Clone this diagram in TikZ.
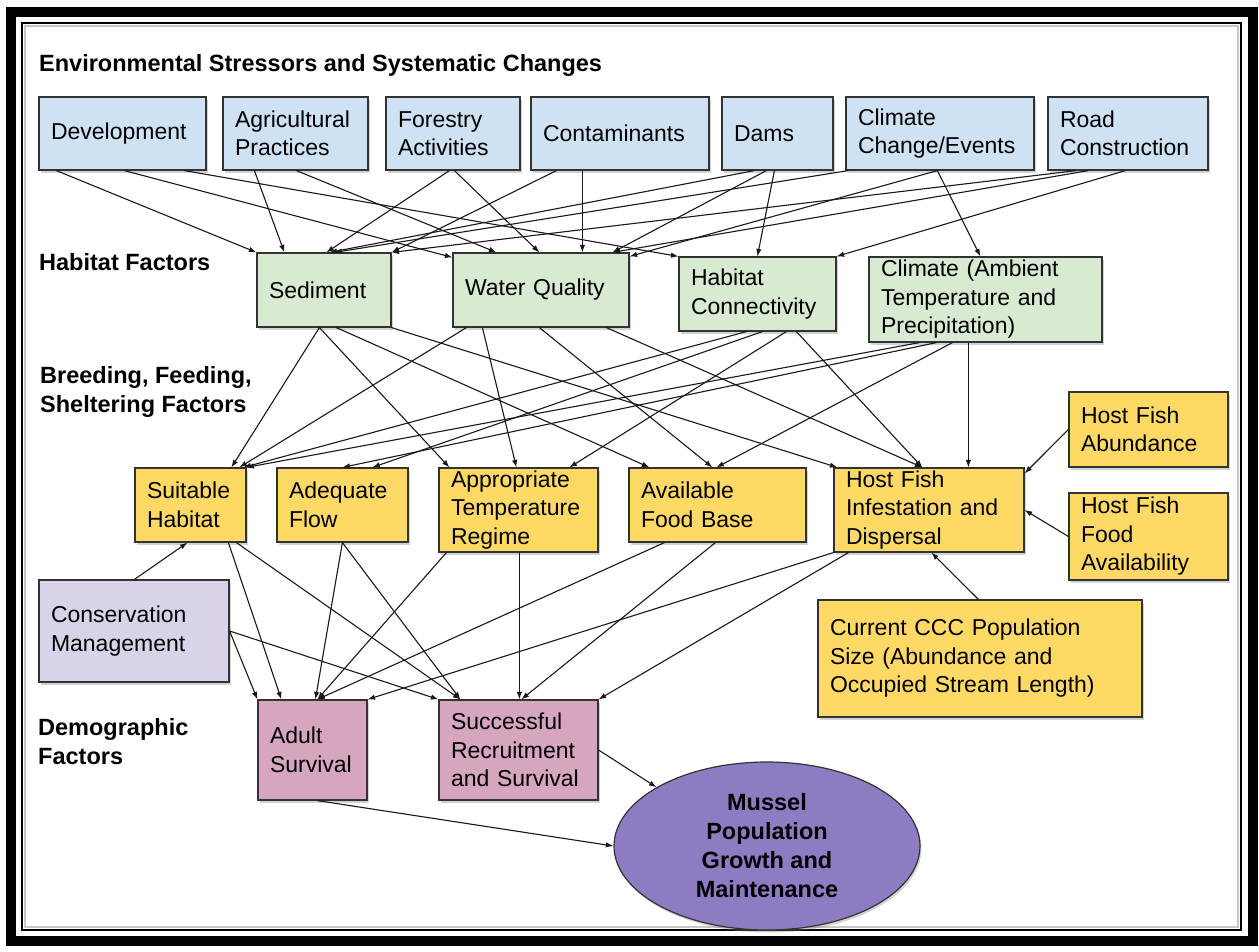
\documentclass[tikz,border=0pt]{standalone}
\usepackage{fontspec}
\setmainfont{Liberation Sans}
\usetikzlibrary{arrows.meta,shapes.geometric,shadows}

\hyphenpenalty=10000
\exhyphenpenalty=10000

\definecolor{stressfill}{HTML}{CFE2F3}
\definecolor{habitatfill}{HTML}{D9EAD3}
\definecolor{breedfill}{HTML}{FFD966}
\definecolor{mgmtfill}{HTML}{D9D2E9}
\definecolor{demofill}{HTML}{D5A6BD}
\definecolor{goalfill}{HTML}{8E7CC3}
\definecolor{edge}{HTML}{333333}

% A factor box given by its corners: name, extra style, x1, y1, x2, y2, text
\newcommand\factorbox[7]{%
  \pgfmathsetmacro\fbw{#5-#3}%
  \pgfmathsetmacro\fbh{#6-#4}%
  \pgfmathsetmacro\fbt{#5-#3-24}%
  \pgfmathsetmacro\fbx{(#3+#5)/2}%
  \pgfmathsetmacro\fby{(#4+#6)/2}%
  \node[factor,#2,minimum width=\fbw pt,minimum height=\fbh pt,text width=\fbt pt] (#1) at (\fbx,\fby) {#7};%
}

\tikzset{
  factor/.style={draw=edge, line width=1.2pt, inner xsep=12pt, inner ysep=0pt,
    align=left, font=\fontsize{23}{28.5}\selectfont,
    drop shadow={shadow xshift=1.5pt, shadow yshift=-2.5pt, opacity=0.35}},
  stress/.style={fill=stressfill},
  habitat/.style={fill=habitatfill},
  breed/.style={fill=breedfill},
  mgmt/.style={fill=mgmtfill},
  demo/.style={fill=demofill},
  tier/.style={font=\bfseries\fontsize{23.5}{29}\selectfont, align=left,
    inner sep=0pt, anchor=north west, text height=17pt, text depth=5pt},
  link/.style={draw=black!90, line width=1.1pt, -{Latex[length=7.5pt,width=5.5pt]}},
}

\begin{document}
\begin{tikzpicture}[x=1pt,y=-1pt]
\fill[white] (0,0) rectangle (1259,951);
\useasboundingbox (0,0) rectangle (1259,951);

% page frame
\draw[line width=10pt] (11,12) rectangle (1253,941);
\draw[line width=2.5pt] (22,23) rectangle (1241,930);
\draw[black!22, line width=2.5pt] (25,26) rectangle (1238,927);

% tier headings (the north west anchor sits 17pt above the last baseline)
\node[tier] (hEnv) at (39,54) {Environmental Stressors and Systematic Changes};
\node[tier] (hHab) at (39,253) {Habitat Factors};
\node[tier] (hBrd) at (40,395) {Breeding, Feeding,\\Sheltering Factors};
\node[tier] (hDem) at (38,747) {Demographic\\Factors};

% stressors
\factorbox{dev}{stress}{39}{97}{206}{170}{Development}
\factorbox{agr}{stress}{223}{97}{368}{170}{Agricultural\\Practices}
\factorbox{fst}{stress}{386}{97}{520}{170}{Forestry\\Activities}
\factorbox{con}{stress}{531}{97}{709}{170}{Contaminants}
\factorbox{dam}{stress}{722}{97}{833}{170}{Dams}
\factorbox{ccv}{stress}{846}{97}{1034}{170}{Climate\\Change/Events}
\factorbox{road}{stress}{1048}{97}{1208}{170}{Road\\Construction}

% habitat factors
\factorbox{sed}{habitat}{257}{253}{391}{327}{Sediment}
\factorbox{wq}{habitat}{453}{253}{629}{327}{Water Quality}
\factorbox{hc}{habitat}{679}{257}{836}{331}{Habitat\\Connectivity}
\factorbox{clim}{habitat}{869}{257}{1102}{342}{Climate (Ambient\\Temperature and\\Precipitation)}

% breeding, feeding, sheltering factors
\factorbox{suit}{breed}{135}{468}{246}{542}{Suitable\\Habitat}
\factorbox{adeq}{breed}{277}{468}{408}{542}{Adequate\\Flow}
\factorbox{appr}{breed}{439}{468}{598}{552}{Appropriate\\Temperature\\Regime}
\factorbox{afb}{breed}{629}{468}{806}{542}{Available\\Food Base}
\factorbox{hfi}{breed}{834}{468}{1024}{552}{Host Fish\\Infestation and\\Dispersal}
\factorbox{hfa}{breed}{1069}{392}{1228}{467}{Host Fish\\Abundance}
\factorbox{hffa}{breed}{1069}{493}{1228}{580}{Host Fish\\Food\\Availability}
\factorbox{ccc}{breed}{818}{600}{1142}{717}{Current CCC Population\\Size (Abundance and\\Occupied Stream Length)}

% management
\factorbox{cm}{mgmt}{39}{580}{229}{682}{Conservation\\Management}

% demographic factors
\factorbox{adult}{demo}{258}{700}{367}{800}{Adult\\Survival}
\factorbox{succ}{demo}{439}{700}{598}{800}{Successful\\Recruitment\\and Survival}

% outcome
\node[ellipse, draw=edge, line width=1.2pt, fill=goalfill, minimum width=306pt,
  minimum height=168pt, inner sep=0pt, align=center,
  font=\bfseries\fontsize{23.5}{29}\selectfont,
  drop shadow={shadow xshift=1.5pt, shadow yshift=-2.5pt, opacity=0.35}]
  (mussel) at (767,846) {Mussel\\Population\\Growth and\\Maintenance};

% stressors -> habitat factors
\draw[link] ([xshift=18pt]dev.south west) -- (sed.north west);
\draw[link] ([xshift=86pt]dev.south west) -- ([yshift=-5pt]wq.north west);
\draw[link] ([xshift=146pt]dev.south west) -- (hc.north west);
\draw[link] ([xshift=32pt]agr.south west) -- ([xshift=28pt]sed.north west);
\draw[link] ([xshift=74pt]agr.south west) -- ([xshift=44pt]wq.north west);
\draw[link] ([xshift=64pt]fst.south west) -- ([xshift=70pt]sed.north west);
\draw[link] ([xshift=69pt]fst.south west) -- ([xshift=87pt]wq.north west);
\draw[link] ([xshift=26pt]con.south west) -- (sed.north east);
\draw[link] ([xshift=52pt]con.south west) -- ([xshift=130pt]wq.north west);
\draw[link] ([xshift=33pt]dam.south west) -- ([xshift=73pt]sed.north west);
\draw[link] ([xshift=45pt]dam.south west) -- ([xshift=160pt]wq.north west);
\draw[link] ([xshift=53pt]dam.south west) -- ([xshift=79pt]hc.north west);
\draw[link] ([xshift=3pt]ccv.south west) -- ([xshift=78pt]sed.north west);
\draw[link] ([xshift=92pt]ccv.south west) -- ([yshift=-4pt]wq.north east);
\draw[link] ([xshift=92pt]ccv.south west) -- ([xshift=112pt]clim.north west);
\draw[link] ([xshift=29pt]road.south west) -- (sed.north east);
\draw[link] ([xshift=41pt]road.south west) -- ([xshift=160pt]wq.north west);
\draw[link] ([xshift=78pt]road.south west) -- (hc.north east);

% habitat factors -> breeding, feeding, sheltering factors
\draw[link] ([xshift=63pt]sed.south west) -- ([xshift=97pt]suit.north west);
\draw[link] ([xshift=63pt]sed.south west) -- ([xshift=11pt]appr.north west);
\draw[link] ([xshift=80pt]sed.south west) -- ([xshift=21pt]afb.north west);
\draw[link] (sed.south east) -- ([xshift=4pt]hfi.north west);
\draw[link] ([xshift=14pt]wq.south west) -- ([xshift=105pt]suit.north west);
\draw[link] ([xshift=30pt]wq.south west) -- ([xshift=78pt]appr.north west);
\draw[link] ([xshift=87pt]wq.south west) -- ([xshift=84pt]afb.north west);
\draw[link] ([xshift=154pt]wq.south west) -- ([xshift=89pt]hfi.north west);
\draw[link] ([xshift=68pt]hc.south west) -- ([xshift=109pt]suit.north west);
\draw[link] ([xshift=84pt]hc.south west) -- ([xshift=96pt]adeq.north west);
\draw[link] ([xshift=108pt]hc.south west) -- ([xshift=131pt]appr.north west);
\draw[link] ([xshift=118pt]hc.south west) -- ([xshift=89pt]hfi.north west);
\draw[link] ([xshift=51pt]clim.south west) -- ([xshift=112pt]suit.north west);
\draw[link] ([xshift=68pt]clim.south west) -- ([xshift=66pt]adeq.north west);
\draw[link] ([xshift=84pt]clim.south west) -- ([xshift=88pt]afb.north west);
\draw[link] ([xshift=100pt]clim.south west) -- ([xshift=135pt]hfi.north west);

% host fish and population inputs
\draw[link] (hfa.west) -- ([yshift=-6pt]hfi.north east);
\draw[link] (hffa.west) -- (hfi.east);
\draw[link] ([xshift=161pt]ccc.north west) -- ([xshift=98pt]hfi.south west);
\draw[link] ([xshift=96pt]cm.north west) -- ([xshift=53pt]suit.south west);

% breeding factors and management -> demographic factors
\draw[link] (cm.east) -- (adult.north west);
\draw[link] (cm.east) -- (succ.north west);
\draw[link] ([xshift=94pt]suit.south west) -- ([xshift=24pt]adult.north west);
\draw[link] ([xshift=102pt]suit.south west) -- ([xshift=22pt]succ.north west);
\draw[link] ([xshift=66pt]adeq.south west) -- ([xshift=58pt]adult.north west);
\draw[link] ([xshift=66pt]adeq.south west) -- ([xshift=22pt]succ.north west);
\draw[link] ([xshift=8pt]appr.south west) -- ([xshift=60pt]adult.north west);
\draw[link] ([xshift=81pt]appr.south west) -- ([xshift=81pt]succ.north west);
\draw[link] ([xshift=36pt]afb.south west) -- ([xshift=60pt]adult.north west);
\draw[link] ([xshift=87pt]afb.south west) -- ([xshift=83pt]succ.north west);
\draw[link] (hfi.south west) -- (adult.north east);
\draw[link] ([xshift=15pt]hfi.south west) -- (succ.north east);

% demographic factors -> population outcome
\draw[link] ([xshift=60pt]adult.south west) -- (mussel.west);
\draw[link] (succ.east) -- (mussel.152);
\end{tikzpicture}
\end{document}
